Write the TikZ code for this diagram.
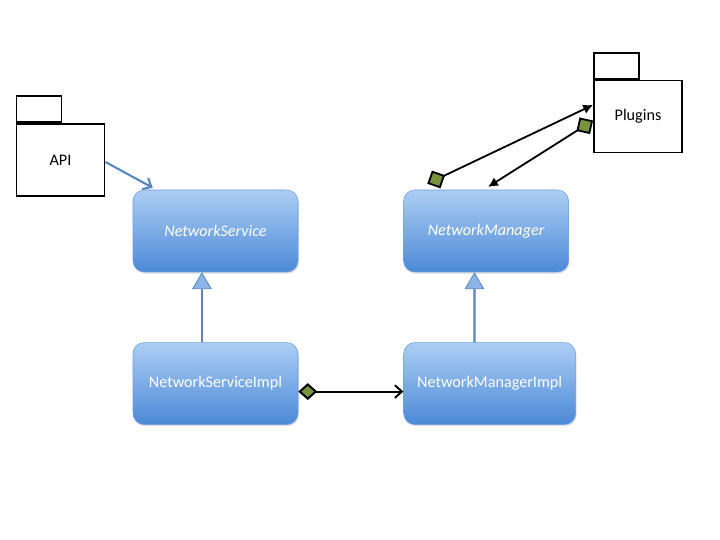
\documentclass[tikz,border=0pt]{standalone}
\usepackage{fontspec}
\setmainfont{Carlito}
\usetikzlibrary{arrows.meta,positioning,shadows}
\definecolor{BoxTop}{RGB}{172,206,244}
\definecolor{BoxBottom}{RGB}{76,137,215}
\definecolor{BoxLine}{RGB}{110,160,225}
\definecolor{LinkBlue}{RGB}{88,134,192}
\definecolor{TipBlue}{RGB}{140,180,232}
\definecolor{OliveGreen}{RGB}{119,147,60}
\tikzset{
  klass/.style={draw=BoxLine,rounded corners=8pt,top color=BoxTop,bottom color=BoxBottom,
    minimum width=4.125cm,minimum height=2.05cm,align=center,text=white,
    font=\fontsize{11.5}{13}\selectfont,
    drop shadow={opacity=0.25,shadow xshift=0.6pt,shadow yshift=-1.2pt}},
  iface/.style={klass,font=\fontsize{11.5}{13}\selectfont\itshape},
  package/.style={draw=black,line width=1.3pt,fill=white,minimum width=2.2cm,
    minimum height=1.8cm,font=\fontsize{11.5}{13}\selectfont},
  tab/.style={draw=black,line width=1.2pt,fill=white,minimum width=1.125cm,
    minimum height=0.65cm,anchor=south west,inner sep=0pt},
  realize/.style={-{Triangle[length=12pt,width=14pt,fill=TipBlue,line width=0.6pt]},
    line width=1.5pt,LinkBlue},
  depend/.style={-{Straight Barb[length=5pt,width=9pt]},line width=1.5pt,LinkBlue},
  owns/.style={{Diamond[length=13.5pt,width=12pt,fill=OliveGreen]}-{Straight Barb[length=5pt,width=9pt]},
    line width=1.4pt,black},
  ownsq/.style={{Diamond[length=14pt,width=14pt,fill=OliveGreen]}-{Latex[length=7pt,width=7pt]},
    line width=1.3pt,black}
}

\begin{document}
\begin{tikzpicture}[node distance=1.75cm and 2.625cm]
\useasboundingbox (0,0) rectangle (18,13.5);

\node[iface] (ns) at (5.3875,7.725) {NetworkService};
\node[iface,right=of ns] (nm) {NetworkManager};
\node[klass,below=of ns] (nsi) {NetworkServiceImpl};
\node[klass,below=of nm,minimum width=4.3cm,xshift=0.09cm] (nmi) {NetworkManagerImpl};

\node[package] (api) at (1.5125,9.5) {API};
\node[tab] (apitab) at (api.north west) {};
\node[package] (plg) at (15.95,10.5875) {Plugins};
\node[tab] (plgtab) at (plg.north west) {};

\draw[depend] ([yshift=-0.05cm]api.east) -- ([xshift=0.5cm,yshift=0.05cm]ns.north west);
\draw[realize] ([xshift=-0.34cm]nsi.north) -- ([xshift=-0.34cm]ns.south);
\draw[realize] ([xshift=-0.38cm]nmi.north) -- ([xshift=-0.29cm]nm.south);
\draw[owns] ([yshift=-0.2cm]nsi.east) -- ([yshift=-0.2cm]nmi.west);
\draw[ownsq] ([xshift=0.6cm,yshift=0.15cm]nm.north west) -- ([yshift=0.29cm]plg.west);
\draw[ownsq] ([yshift=-0.1cm]plg.west) -- ([xshift=0.05cm,yshift=0.07cm]nm.north);

\end{tikzpicture}
\end{document}
